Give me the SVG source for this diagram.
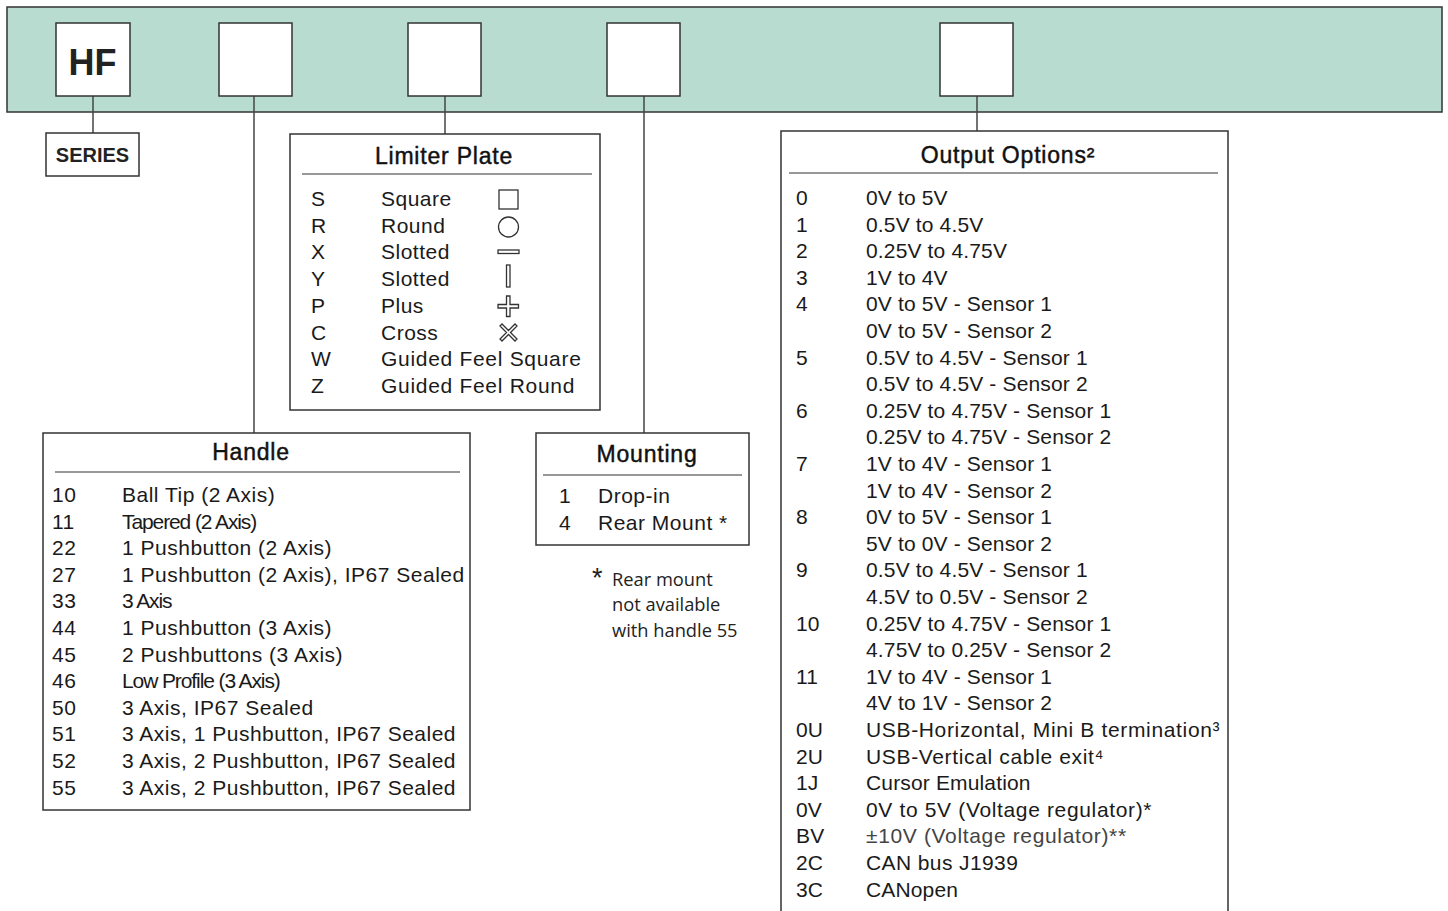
<svg xmlns="http://www.w3.org/2000/svg" width="1448" height="911" viewBox="0 0 1448 911">
<style>
.box{fill:#fff;stroke:#333;stroke-width:1.5}
.bar{fill:#b8ddd0;stroke:#333;stroke-width:1.5}
.ln{stroke:#444;stroke-width:1.5;fill:none}
.sep{stroke:#333;stroke-width:1.2}
.t{font-family:"Liberation Sans",Arial,sans-serif;font-size:21px;fill:#1a1a1a;letter-spacing:0.5px}
.o{letter-spacing:0.15px}
.w{letter-spacing:0.65px}
.tt{font-family:"Liberation Sans",Arial,sans-serif;font-size:23px;fill:#111;stroke:#111;stroke-width:0.45px;text-anchor:middle;letter-spacing:0.8px}
.cond{letter-spacing:-1.1px}
.note{font-family:"Open Sans","Liberation Sans",sans-serif;font-size:18.3px;fill:#222}
.ic{fill:none;stroke:#333;stroke-width:1.3}
</style>
<rect x="0" y="0" width="1448" height="911" fill="#fff"/>
<g id="bar">
<rect class="bar" x="7" y="7" width="1435" height="105"/>
</g>
<g id="connectors">
<line class="ln" x1="93" y1="96" x2="93" y2="133"/>
<line class="ln" x1="254" y1="96" x2="254" y2="433"/>
<line class="ln" x1="445" y1="96" x2="445" y2="134"/>
<line class="ln" x1="644" y1="96" x2="644" y2="433"/>
<line class="ln" x1="977" y1="96" x2="977" y2="131"/>
</g>
<g id="slot-hf">
<rect class="box" x="56" y="23" width="74" height="73"/>
<text x="92.5" y="75" text-anchor="middle" font-family="Liberation Sans,Arial,sans-serif" font-weight="bold" font-size="36" fill="#222">HF</text>
</g>
<g id="slot-handle"><rect class="box" x="219" y="23" width="73" height="73"/></g>
<g id="slot-limiter"><rect class="box" x="408" y="23" width="73" height="73"/></g>
<g id="slot-mounting"><rect class="box" x="607" y="23" width="73" height="73"/></g>
<g id="slot-output"><rect class="box" x="940" y="23" width="73" height="73"/></g>
<g id="series">
<rect class="box" x="46" y="133" width="93" height="43"/>
<text x="92.5" y="162" text-anchor="middle" font-family="Liberation Sans,Arial,sans-serif" font-weight="bold" font-size="20" fill="#222">SERIES</text>
</g>
<g id="limiter">
<rect class="box" x="290" y="134" width="310" height="276"/>
<text class="tt" x="444" y="164">Limiter Plate</text>
<line class="sep" x1="302" y1="174" x2="592" y2="174"/>
<g class="t">
<text x="311" y="206">S</text><text x="381" y="206">Square</text>
<text x="311" y="233">R</text><text x="381" y="233">Round</text>
<text x="311" y="259">X</text><text x="381" y="259">Slotted</text>
<text x="311" y="286">Y</text><text x="381" y="286">Slotted</text>
<text x="311" y="313">P</text><text x="381" y="313">Plus</text>
<text x="311" y="340">C</text><text x="381" y="340">Cross</text>
<text x="311" y="366">W</text><text x="381" y="366" letter-spacing="0.7">Guided Feel Square</text>
<text x="311" y="393">Z</text><text x="381" y="393" letter-spacing="0.7">Guided Feel Round</text>
</g>
<rect class="ic" x="499" y="190" width="19" height="19"/>
<circle class="ic" cx="508.5" cy="227" r="10"/>
<rect class="ic" x="498" y="250" width="21" height="3.5"/>
<rect class="ic" x="506.5" y="265" width="3.5" height="22"/>
<path class="ic" d="M506.5,296 h3.5 v8.5 h8.5 v3.5 h-8.5 v8.5 h-3.5 v-8.5 h-8.5 v-3.5 h8.5 z"/>
<path class="ic" d="M500,326 l2,-2 l6.5,6.5 l6.5,-6.5 l2,2 l-6.5,6.5 l6.5,6.5 l-2,2 l-6.5,-6.5 l-6.5,6.5 l-2,-2 l6.5,-6.5 z"/>
</g>
<g id="handle">
<rect class="box" x="43" y="433" width="427" height="377"/>
<text class="tt" x="251" y="460">Handle</text>
<line class="sep" x1="55" y1="472" x2="460" y2="472"/>
<g class="t">
<text x="52" y="502">10</text><text x="122" y="502">Ball Tip (2 Axis)</text>
<text x="52" y="528.6">11</text><text x="122" y="528.6" class="cond">Tapered (2 Axis)</text>
<text x="52" y="555.2">22</text><text x="122" y="555.2">1 Pushbutton (2 Axis)</text>
<text x="52" y="581.8">27</text><text x="122" y="581.8">1 Pushbutton (2 Axis), IP67 Sealed</text>
<text x="52" y="608.4">33</text><text x="122" y="608.4" class="cond">3 Axis</text>
<text x="52" y="635">44</text><text x="122" y="635">1 Pushbutton (3 Axis)</text>
<text x="52" y="661.6">45</text><text x="122" y="661.6">2 Pushbuttons (3 Axis)</text>
<text x="52" y="688.2">46</text><text x="122" y="688.2" class="cond">Low Profile (3 Axis)</text>
<text x="52" y="714.8">50</text><text x="122" y="714.8">3 Axis, IP67 Sealed</text>
<text x="52" y="741.4">51</text><text x="122" y="741.4">3 Axis, 1 Pushbutton, IP67 Sealed</text>
<text x="52" y="768">52</text><text x="122" y="768">3 Axis, 2 Pushbutton, IP67 Sealed</text>
<text x="52" y="794.6">55</text><text x="122" y="794.6">3 Axis, 2 Pushbutton, IP67 Sealed</text>
</g>
</g>
<g id="mounting">
<rect class="box" x="536" y="433" width="213" height="112"/>
<text class="tt" x="647" y="462">Mounting</text>
<line class="sep" x1="543" y1="475" x2="742" y2="475"/>
<g class="t">
<text x="559" y="503">1</text><text x="598" y="503">Drop-in</text>
<text x="559" y="530">4</text><text x="598" y="530">Rear Mount *</text>
</g>
<text x="592" y="587" font-family="Liberation Sans,Arial,sans-serif" font-size="27" fill="#222">*</text>
<text class="note" x="612" y="586">Rear mount</text>
<text class="note" x="612" y="611">not available</text>
<text class="note" x="612" y="637">with handle 55</text>
</g>
<g id="output">
<path class="box" d="M781,911 V131 H1228 V911"/>
<text class="tt" x="1008" y="163">Output Options²</text>
<line class="sep" x1="789" y1="173" x2="1218" y2="173"/>
<g class="t o">
<text x="796" y="205">0</text><text x="866" y="205">0V to 5V</text>
<text x="796" y="231.6">1</text><text x="866" y="231.6">0.5V to 4.5V</text>
<text x="796" y="258.2">2</text><text x="866" y="258.2">0.25V to 4.75V</text>
<text x="796" y="284.8">3</text><text x="866" y="284.8">1V to 4V</text>
<text x="796" y="311.4">4</text><text x="866" y="311.4">0V to 5V - Sensor 1</text>
<text x="866" y="338">0V to 5V - Sensor 2</text>
<text x="796" y="364.6">5</text><text x="866" y="364.6">0.5V to 4.5V - Sensor 1</text>
<text x="866" y="391.2">0.5V to 4.5V - Sensor 2</text>
<text x="796" y="417.8">6</text><text x="866" y="417.8">0.25V to 4.75V - Sensor 1</text>
<text x="866" y="444.4">0.25V to 4.75V - Sensor 2</text>
<text x="796" y="471">7</text><text x="866" y="471">1V to 4V - Sensor 1</text>
<text x="866" y="497.6">1V to 4V - Sensor 2</text>
<text x="796" y="524.2">8</text><text x="866" y="524.2">0V to 5V - Sensor 1</text>
<text x="866" y="550.8">5V to 0V - Sensor 2</text>
<text x="796" y="577.4">9</text><text x="866" y="577.4">0.5V to 4.5V - Sensor 1</text>
<text x="866" y="604">4.5V to 0.5V - Sensor 2</text>
<text x="796" y="630.6">10</text><text x="866" y="630.6">0.25V to 4.75V - Sensor 1</text>
<text x="866" y="657.2">4.75V to 0.25V - Sensor 2</text>
<text x="796" y="683.8">11</text><text x="866" y="683.8">1V to 4V - Sensor 1</text>
<text x="866" y="710.4">4V to 1V - Sensor 2</text>
<text x="796" y="737">0U</text><text x="866" y="737" class="w">USB-Horizontal, Mini B termination³</text>
<text x="796" y="763.6">2U</text><text x="866" y="763.6" class="w">USB-Vertical cable exit⁴</text>
<text x="796" y="790.2">1J</text><text x="866" y="790.2">Cursor Emulation</text>
<text x="796" y="816.8">0V</text><text x="866" y="816.8" class="w">0V to 5V (Voltage regulator)*</text>
<text x="796" y="843.4">BV</text><text x="866" y="843.4" class="w" fill="#444">±10V (Voltage regulator)**</text>
<text x="796" y="870">2C</text><text x="866" y="870" letter-spacing="0.4">CAN bus J1939</text>
<text x="796" y="896.6">3C</text><text x="866" y="896.6">CANopen</text>
</g>
</g>
</svg>
